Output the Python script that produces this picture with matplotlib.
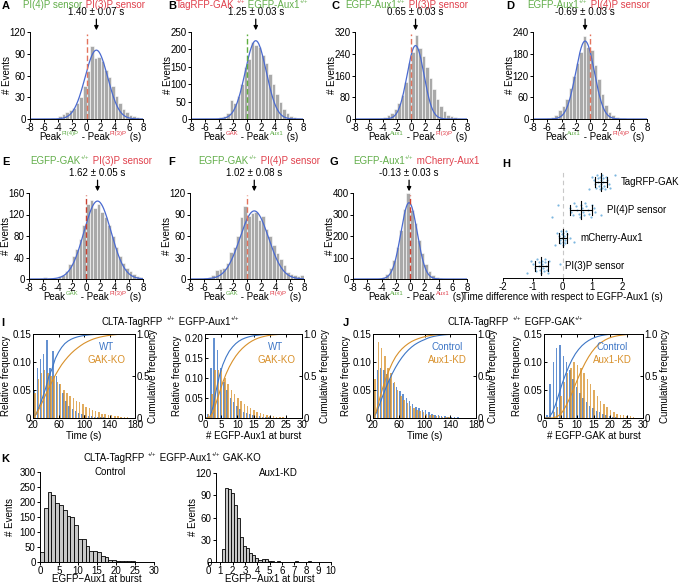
import numpy as np
import matplotlib.pyplot as plt
from matplotlib.transforms import blended_transform_factory

FAMILY = ['Liberation Sans', 'DejaVu Sans']
plt.rcParams['font.family'] = FAMILY
plt.rcParams['font.size'] = 7
plt.rcParams['axes.unicode_minus'] = False
plt.rcParams['axes.linewidth'] = 0.7
plt.rcParams['xtick.major.size'] = 2
plt.rcParams['ytick.major.size'] = 2
plt.rcParams['xtick.major.width'] = 0.7
plt.rcParams['ytick.major.width'] = 0.7
plt.rcParams['xtick.major.pad'] = 1.2
plt.rcParams['ytick.major.pad'] = 1.2

FS = 7
GREEN = '#62ae4a'
RED = '#e0404c'
DASH_RED = '#e3735c'
GBLUE = '#4a6ad0'
BLUE = '#3d76c6'
ORANGE = '#d8902a'

# ---- data: peak-time difference histograms (bins of 0.5 s, -8..8) ----
bin_centers = np.arange(-7.75, 8.0, 0.5)
hist_A = [0, 0, 0, 0, 0, 0, 1, 2, 4, 7, 9, 12, 15, 22, 30, 45, 66, 101, 84, 86, 80, 68, 58, 45, 32, 22, 14, 9, 6, 4, 3, 2]
hist_B = [0, 0, 0, 0, 0, 0, 1, 3, 5, 10, 16, 55, 45, 65, 100, 150, 172, 222, 213, 206, 185, 160, 130, 100, 72, 48, 30, 17, 10, 6, 3, 1]
hist_C = [0, 0, 0, 0, 0, 0, 1, 4, 8, 14, 22, 36, 58, 90, 135, 205, 245, 310, 262, 232, 190, 150, 110, 75, 48, 28, 16, 10, 6, 3, 1, 0]
hist_D = [0, 0, 0, 1, 2, 5, 10, 25, 35, 55, 85, 120, 155, 185, 230, 200, 190, 150, 110, 70, 40, 20, 10, 5, 3, 2, 1, 1, 0, 0, 0, 0]
hist_E = [0, 0, 0, 1, 3, 1, 1, 2, 5, 8, 14, 28, 42, 55, 75, 100, 140, 147, 133, 140, 125, 115, 100, 80, 60, 42, 30, 20, 14, 10, 6, 4]
hist_F = [0, 0, 0, 0, 1, 3, 5, 12, 14, 15, 23, 38, 45, 60, 86, 102, 88, 92, 94, 83, 88, 70, 60, 48, 36, 28, 20, 10, 7, 5, 4, 5]
hist_G = [0, 0, 0, 0, 0, 0, 1, 4, 10, 25, 50, 90, 150, 230, 325, 400, 320, 260, 180, 120, 70, 35, 18, 10, 5, 2, 1, 0, 0, 0, 0, 0]
# gaussian fit: amplitude, mean, sd
fit_A = (95, 1.40, 1.6)
fit_B = (225, 1.25, 1.5)
fit_C = (270, 0.65, 1.2)
fit_D = (215, -0.69, 1.3)
fit_E = (145, 1.62, 1.9)
fit_F = (95, 1.02, 2.0)
fit_G = (355, -0.13, 1.15)
means_txt = ['1.40 ± 0.07 s', '1.25 ± 0.03 s', '0.65 ± 0.03 s', '-0.69 ± 0.03 s',
             '1.62 ± 0.05 s', '1.02 ± 0.08 s', '-0.13 ± 0.03 s']

# ---- data: panel H, per-cell mean differences (s) ----
h_labels = ['TagRFP-GAK', 'PI(4)P sensor', 'mCherry-Aux1', 'PI(3)P sensor']
h_gak = [0.9, 1.0, 1.05, 1.1, 1.12, 1.15, 1.18, 1.2, 1.22, 1.25, 1.27, 1.28, 1.3, 1.32, 1.33,
         1.35, 1.37, 1.4, 1.42, 1.45, 1.5, 1.55, 1.6, 1.75]
h_pi4p = [-0.35, -0.15, 0.25, 0.3, 0.35, 0.4, 0.45, 0.5, 0.55, 0.6, 0.62, 0.65, 0.7, 0.72, 0.75,
          0.8, 0.85, 0.9, 0.95, 1.0, 1.05, 1.1, 1.3]
h_mch = [-0.25, -0.18, -0.12, -0.1, -0.08, -0.05, -0.03, -0.02, 0.0, 0.01, 0.03, 0.05, 0.07,
         0.09, 0.12, 0.15, 0.25, 0.4]
h_pi3p = [-1.2, -1.05, -0.98, -0.92, -0.88, -0.85, -0.8, -0.78, -0.75, -0.72, -0.7, -0.68, -0.65,
          -0.62, -0.6, -0.58, -0.55, -0.52, -0.5, -0.45, -0.1]

# ---- data: panels I and J, relative frequencies ----
time_centers = np.arange(22.5, 180, 5)
i_time_wt = [0.05, 0.09, 0.105, 0.115, 0.14, 0.09, 0.12, 0.075, 0.06, 0.045, 0.03, 0.022, 0.016,
             0.012, 0.009, 0.007, 0.005, 0.004, 0.003, 0.002, 0.002, 0.001, 0.001, 0, 0, 0, 0, 0, 0, 0, 0, 0]
i_time_ko = [0.045, 0.07, 0.08, 0.085, 0.08, 0.075, 0.075, 0.065, 0.06, 0.05, 0.045, 0.04, 0.035,
             0.03, 0.028, 0.025, 0.02, 0.018, 0.015, 0.012, 0.01, 0.008, 0.007, 0.006, 0.005,
             0.004, 0.003, 0.002, 0.001, 0.001, 0, 0]
j_time_ctrl = [0.05, 0.085, 0.09, 0.085, 0.078, 0.07, 0.062, 0.055, 0.048, 0.042, 0.035, 0.03,
               0.025, 0.02, 0.017, 0.014, 0.015, 0.011, 0.008, 0.006, 0.005, 0.004, 0.003, 0.002,
               0.002, 0.001, 0.001, 0, 0, 0, 0, 0]
j_time_kd = [0.07, 0.135, 0.125, 0.11, 0.09, 0.08, 0.065, 0.05, 0.04, 0.032, 0.027, 0.022, 0.017,
             0.014, 0.012, 0.01, 0.008, 0.006, 0.005, 0.004, 0.003, 0.002, 0.001, 0.001, 0, 0, 0,
             0, 0, 0, 0, 0]
count_centers = np.arange(1, 31)
i_aux_wt = [0.01, 0.125, 0.20, 0.17, 0.125, 0.09, 0.07, 0.05, 0.04, 0.03, 0.022, 0.016, 0.012,
            0.009, 0.007, 0.005, 0.004, 0.003, 0.002, 0.002, 0.001, 0.001, 0, 0, 0, 0, 0, 0, 0, 0]
i_aux_ko = [0.01, 0.06, 0.12, 0.12, 0.12, 0.10, 0.085, 0.07, 0.06, 0.05, 0.042, 0.035, 0.03,
            0.025, 0.02, 0.016, 0.012, 0.01, 0.008, 0.006, 0.004, 0.003, 0.002, 0.002, 0.001,
            0.001, 0, 0, 0, 0]
j_gak_ctrl = [0.005, 0.06, 0.10, 0.125, 0.13, 0.11, 0.10, 0.085, 0.07, 0.055, 0.045, 0.035,
              0.028, 0.022, 0.017, 0.013, 0.01, 0.007, 0.005, 0.003, 0.002, 0.001, 0, 0, 0, 0,
              0, 0, 0, 0]
j_gak_kd = [0, 0, 0.01, 0.02, 0.04, 0.065, 0.08, 0.09, 0.10, 0.095, 0.09, 0.08, 0.07, 0.06,
            0.05, 0.04, 0.03, 0.025, 0.02, 0.015, 0.01, 0.008, 0.006, 0.005, 0.004, 0.003,
            0.002, 0, 0, 0]

# ---- data: panel K, counts ----
k_ctrl_edges = np.arange(0, 31, 1)
k_ctrl = [34, 180, 235, 222, 197, 190, 175, 155, 150, 122, 78, 78, 55, 38, 36, 33, 20, 18, 8, 6,
          5, 4, 3, 2, 2, 1, 1, 1, 0, 0]
k_kd_edges = np.arange(1.1, 8.5, 0.25)
k_kd = [17, 100, 99, 93, 77, 59, 34, 22, 19, 12, 10, 6, 3, 4, 4, 1, 2, 0, 1, 0, 0, 0, 0, 0, 1,
        0, 0, 0, 1]

W, H = 681, 583
fig = plt.figure(figsize=(W / 100, H / 100), dpi=100)

# Arial / Liberation Sans advance widths (per 1000 em) for laying out coloured text pieces
ADV = {' ': 278, '(': 333, ')': 333, '+': 584, '-': 333, '/': 278, 'A': 667, 'C': 722,
       'E': 667, 'F': 611, 'G': 778, 'I': 278, 'K': 667, 'L': 556, 'O': 778, 'P': 667,
       'R': 722, 'T': 611, 'a': 556, 'e': 556, 'g': 556, 'h': 556, 'k': 500, 'm': 833,
       'n': 556, 'o': 556, 'r': 333, 's': 500, 'u': 556, 'x': 500, 'y': 500}


def box(l, t, r, b):
    return fig.add_axes([l / W, 1 - b / H, (r - l) / W, (b - t) / H])


def ftext(x, y, s, **kw):
    return fig.text(x / W, 1 - y / H, s, **kw)


def text_px(s, size):
    return sum(ADV.get(ch, 556) for ch in s) / 1000 * size * 100 / 72


def rich(x, y, parts, size=FS):
    # pieces (text, color, superscript?) laid left to right from x, baseline y (pixels)
    for s, c, sup in parts:
        fs = size * 0.62 if sup else size
        dy = size * 0.5 * 100 / 72 if sup else 0
        ftext(x, y - dy, s, color=c, fontsize=fs, va='baseline', ha='left')
        x += text_px(s, fs) + 0.3


def letter(x, y, s):
    ftext(x, y, s, fontsize=8, fontweight='bold', va='baseline')


def ylab(ax, bx, xc):
    ax.yaxis.set_label_coords((xc - bx[0]) / (bx[2] - bx[0]), 0.5)
    ax.yaxis.label.set_va('center')


def xlab_at(ax, bx, yc):
    ax.xaxis.set_label_coords(0.5, -(yc - bx[3]) / (bx[3] - bx[1]))
    ax.xaxis.label.set_va('center')


def peak_panel(bx, hist, fit, ymax, ystep, line_col, mean_txt, title, tx, xlab, lx, tb):
    ax = box(*bx)
    ax.bar(bin_centers, hist, width=0.5, color='#a9a9a9', edgecolor='white', linewidth=0.4)
    a, mu, sd = fit
    xs = np.linspace(-8, 8, 300)
    ax.plot(xs, a * np.exp(-0.5 * ((xs - mu) / sd) ** 2), color=GBLUE, lw=0.9)
    ax.axvline(0, color=line_col, ls=(0, (4, 2)), lw=1.0, ymax=0.98)
    ax.set_xlim(-8, 8)
    ax.set_ylim(0, ymax)
    ax.set_xticks(range(-8, 9, 2))
    ax.set_yticks(np.arange(0, ymax + 1, ystep))
    ax.tick_params(labelsize=FS)
    for s in ('top', 'right'):
        ax.spines[s].set_visible(False)
    ax.set_ylabel('# Events', fontsize=FS)
    ylab(ax, bx, bx[0] - 23)
    tr = blended_transform_factory(ax.transData, ax.transAxes)
    ax.annotate('', xy=(mu, 1.02), xycoords=tr, xytext=(0, 8), textcoords='offset points',
                arrowprops=dict(arrowstyle='-|>', color='k', lw=0.9, mutation_scale=6,
                                shrinkA=0, shrinkB=0))
    ax.annotate(mean_txt, xy=(mu, 1.0), xycoords=tr, xytext=(0, 12.5),
                textcoords='offset points', ha='center', va='baseline', fontsize=FS)
    rich(tx, tb, title)
    rich(lx, bx[3] + 21, xlab)


G_, R_ = GREEN, RED
sup_pp = '+/+'
peak_panel((30, 32, 143, 119), hist_A, fit_A, 120, 30, DASH_RED, means_txt[0],
           [('PI(4)P sensor', G_, False), (' PI(3)P sensor', R_, False)], 23,
           [('Peak', 'k', False), ('PI(4)P', G_, True), (' - Peak', 'k', False),
            ('PI(3)P', R_, True), (' (s)', 'k', False)], 39, 8)
peak_panel((191, 32, 303, 119), hist_B, fit_B, 250, 50, '#5fae3f', means_txt[1],
           [('TagRFP-GAK', R_, False), (sup_pp, R_, True), (' EGFP-Aux1', G_, False), (sup_pp, G_, True)], 176,
           [('Peak', 'k', False), ('GAK', R_, True), (' - Peak', 'k', False),
            ('Aux1', G_, True), (' (s)', 'k', False)], 203, 8)
peak_panel((355, 32, 467, 119), hist_C, fit_C, 320, 80, DASH_RED, means_txt[2],
           [('EGFP-Aux1', G_, False), (sup_pp, G_, True), (' PI(3)P sensor', R_, False)], 345,
           [('Peak', 'k', False), ('Aux1', G_, True), (' - Peak', 'k', False),
            ('PI(3)P', R_, True), (' (s)', 'k', False)], 368, 8)
peak_panel((533, 32, 647, 119), hist_D, fit_D, 240, 60, DASH_RED, means_txt[3],
           [('EGFP-Aux1', G_, False), (sup_pp, G_, True), (' PI(4)P sensor', R_, False)], 527,
           [('Peak', 'k', False), ('Aux1', G_, True), (' - Peak', 'k', False),
            ('PI(4)P', R_, True), (' (s)', 'k', False)], 545, 8)
peak_panel((29, 193, 143, 279), hist_E, fit_E, 160, 40, '#c8402f', means_txt[4],
           [('EGFP-GAK', G_, False), (sup_pp, G_, True), (' PI(3)P sensor', R_, False)], 30,
           [('Peak', 'k', False), ('GAK', G_, True), (' - Peak', 'k', False),
            ('PI(3)P', R_, True), (' (s)', 'k', False)], 43, 164)
peak_panel((190, 193, 304, 279), hist_F, fit_F, 120, 30, DASH_RED, means_txt[5],
           [('EGFP-GAK', G_, False), (sup_pp, G_, True), (' PI(4)P sensor', R_, False)], 198,
           [('Peak', 'k', False), ('GAK', G_, True), (' - Peak', 'k', False),
            ('PI(4)P', R_, True), (' (s)', 'k', False)], 203, 164)
peak_panel((353, 193, 467, 279), hist_G, fit_G, 400, 100, '#d04030', means_txt[6],
           [('EGFP-Aux1', G_, False), (sup_pp, G_, True), (' mCherry-Aux1', R_, False)], 353,
           [('Peak', 'k', False), ('Aux1', G_, True), (' - Peak', 'k', False),
            ('Aux1', R_, True), (' (s)', 'k', False)], 368, 164)

# ---- panel H ----
bxh = (503, 172, 622, 278)
axh = box(*bxh)
axh.axvline(0, color='#c8c8c8', ls=(0, (4, 3)), lw=0.8)
for k, vals in enumerate([h_gak, h_pi4p, h_mch, h_pi3p]):
    yc = 3 - k
    vals = np.array(vals)
    jit = np.array([((i * 7) % 9 - 4) / 4 * 0.26 for i in range(len(vals))])
    axh.scatter(vals, yc + jit, s=2.5, color='#7db7e0', linewidths=0, zorder=2)
    m, sd = vals.mean(), vals.std()
    axh.plot([m - sd, m + sd], [yc, yc], color='k', lw=0.8, zorder=3)
    axh.plot([m, m], [yc - 0.32, yc + 0.32], color='k', lw=0.8, zorder=3)
    for e in (m - sd, m + sd):
        axh.plot([e, e], [yc - 0.18, yc + 0.18], color='k', lw=0.8, zorder=3)
    axh.text(vals.max() + 0.2, yc, h_labels[k], va='center', ha='left', fontsize=FS)
axh.set_xlim(-2, 2)
axh.set_ylim(-0.43, 3.36)
axh.set_xticks([-2, -1, 0, 1, 2])
axh.set_yticks([])
for s in ('top', 'right', 'left'):
    axh.spines[s].set_visible(False)
axh.tick_params(labelsize=FS)
axh.set_xlabel('Time difference with respect to EGFP-Aux1 (s)', fontsize=FS)
xlab_at(axh, bxh, 297)


# ---- panels I and J ----
def freq_panel(bx, centers, blue, orange, bw, off, xlim, xticks, ymax, yticks, xlab,
               names, leg_x, yl_left, yl_right):
    ax = box(*bx)
    centers = np.asarray(centers, dtype=float)
    ax.bar(centers - off, blue, width=bw, color=BLUE, alpha=0.8, linewidth=0)
    ax.bar(centers + off, orange, width=bw, color=ORANGE, alpha=0.75, linewidth=0)
    ax.set_xlim(*xlim)
    ax.set_ylim(0, ymax)
    ax.set_xticks(xticks)
    ax.set_yticks(yticks)
    ax.set_yticklabels(['0'] + ['%.2f' % v for v in yticks[1:]])
    ax.tick_params(labelsize=FS, top=True, direction='in')
    ax.set_ylabel('Relative frequency', fontsize=FS)
    ylab(ax, bx, yl_left)
    ax.set_xlabel(xlab, fontsize=FS)
    xlab_at(ax, bx, 436)
    ax2 = ax.twinx()
    step = centers[1] - centers[0]
    for vals, c in ((blue, BLUE), (orange, ORANGE)):
        cum = np.concatenate([[0], np.cumsum(vals) / np.sum(vals)])
        xs = np.concatenate([[centers[0] - step / 2], centers + step / 2])
        ax2.plot(xs, cum, color=c, lw=0.8)
    ax2.set_ylim(0, 1.0)
    ax2.set_yticks([0, 0.5, 1.0])
    ax2.set_yticklabels(['0', '0.5', '1.0'])
    ax2.tick_params(labelsize=FS, direction='in')
    ax2.set_ylabel('Cumulative frequency', fontsize=FS)
    ylab(ax2, bx, yl_right)
    ftext(leg_x, bx[1] + 16, names[0], color=BLUE, ha='center', va='baseline', fontsize=FS)
    ftext(leg_x, bx[1] + 29, names[1], color=ORANGE, ha='center', va='baseline', fontsize=FS)


freq_panel((33, 334, 135, 418), time_centers, i_time_wt, i_time_ko, 2.4, 0.8, (20, 180),
           [20, 60, 100, 140, 180], 0.15, [0, 0.05, 0.10, 0.15], 'Time (s)',
           ('WT', 'GAK-KO'), 107, 6, 153)
freq_panel((205, 334, 302, 418), count_centers, i_aux_wt, i_aux_ko, 0.45, 0.15, (0, 30),
           range(0, 31, 5), 0.21, [0, 0.05, 0.10, 0.15, 0.20], '# EGFP-Aux1 at burst',
           ('WT', 'GAK-KO'), 276, 177, 325)
freq_panel((373, 334, 476, 418), time_centers, j_time_ctrl, j_time_kd, 2.4, 0.8, (20, 180),
           [20, 60, 100, 140, 180], 0.15, [0, 0.05, 0.10, 0.15], 'Time (s)',
           ('Control', 'Aux1-KD'), 447, 346, 493)
freq_panel((544, 334, 643, 418), count_centers, j_gak_ctrl, j_gak_kd, 0.45, 0.15, (0, 30),
           range(0, 31, 5), 0.15, [0, 0.05, 0.10, 0.15], '# EGFP-GAK at burst',
           ('Control', 'Aux1-KD'), 612, 517, 665)

rich(102, 325, [('CLTA-TagRFP', 'k', False), (sup_pp, 'k', True), (' EGFP-Aux1', 'k', False),
                (sup_pp, 'k', True)])
rich(448, 325, [('CLTA-TagRFP', 'k', False), (sup_pp, 'k', True), (' EGFP-GAK', 'k', False),
                (sup_pp, 'k', True)])


# ---- panel K ----
def count_panel(bx, edges, counts, xlim, xticks, ymax, yticks, name, name_x, ylx, spine_at):
    ax = box(*bx)
    edges = np.asarray(edges, dtype=float)
    ax.bar(edges[:len(counts)], counts, width=edges[1] - edges[0], align='edge',
           color='#c8c8c8', edgecolor='k', linewidth=0.6)
    ax.set_xlim(*xlim)
    ax.set_ylim(0, ymax)
    ax.set_xticks(xticks)
    ax.set_yticks(yticks)
    for s in ('top', 'right'):
        ax.spines[s].set_visible(False)
    ax.spines['left'].set_position(('data', spine_at))
    ax.tick_params(labelsize=FS)
    ax.tick_params(axis='x', pad=0.6)
    ax.set_ylabel('# Events', fontsize=FS)
    ylab(ax, bx, ylx)
    ax.set_xlabel('EGFP\u2212Aux1 at burst', fontsize=FS)
    xlab_at(ax, bx, 579)
    ftext(name_x, bx[1] + 3, name, ha='center', va='baseline', fontsize=FS)


count_panel((40, 472, 154, 562), k_ctrl_edges, k_ctrl, (0, 30), range(0, 31, 5), 300,
            range(0, 301, 50), 'Control', 110, 10, 0)
count_panel((208, 473, 331, 562), k_kd_edges, k_kd, (0, 10), range(0, 11), 120,
            range(0, 121, 30), 'Aux1-KD', 278, 193, 0.65)
rich(83, 461, [('CLTA-TagRFP', 'k', False), (sup_pp, 'k', True), (' EGFP-Aux1', 'k', False),
               (sup_pp, 'k', True), (' GAK-KO', 'k', False)])

for x, y, s in [(2, 9, 'A'), (168, 9, 'B'), (332, 9, 'C'), (506, 9, 'D'),
                (2, 165, 'E'), (168, 165, 'F'), (330, 165, 'G'), (502, 167, 'H'),
                (1, 326, 'I'), (343, 326, 'J'), (1, 462, 'K')]:
    letter(x, y, s)

fig.savefig('out.png', dpi=100)
